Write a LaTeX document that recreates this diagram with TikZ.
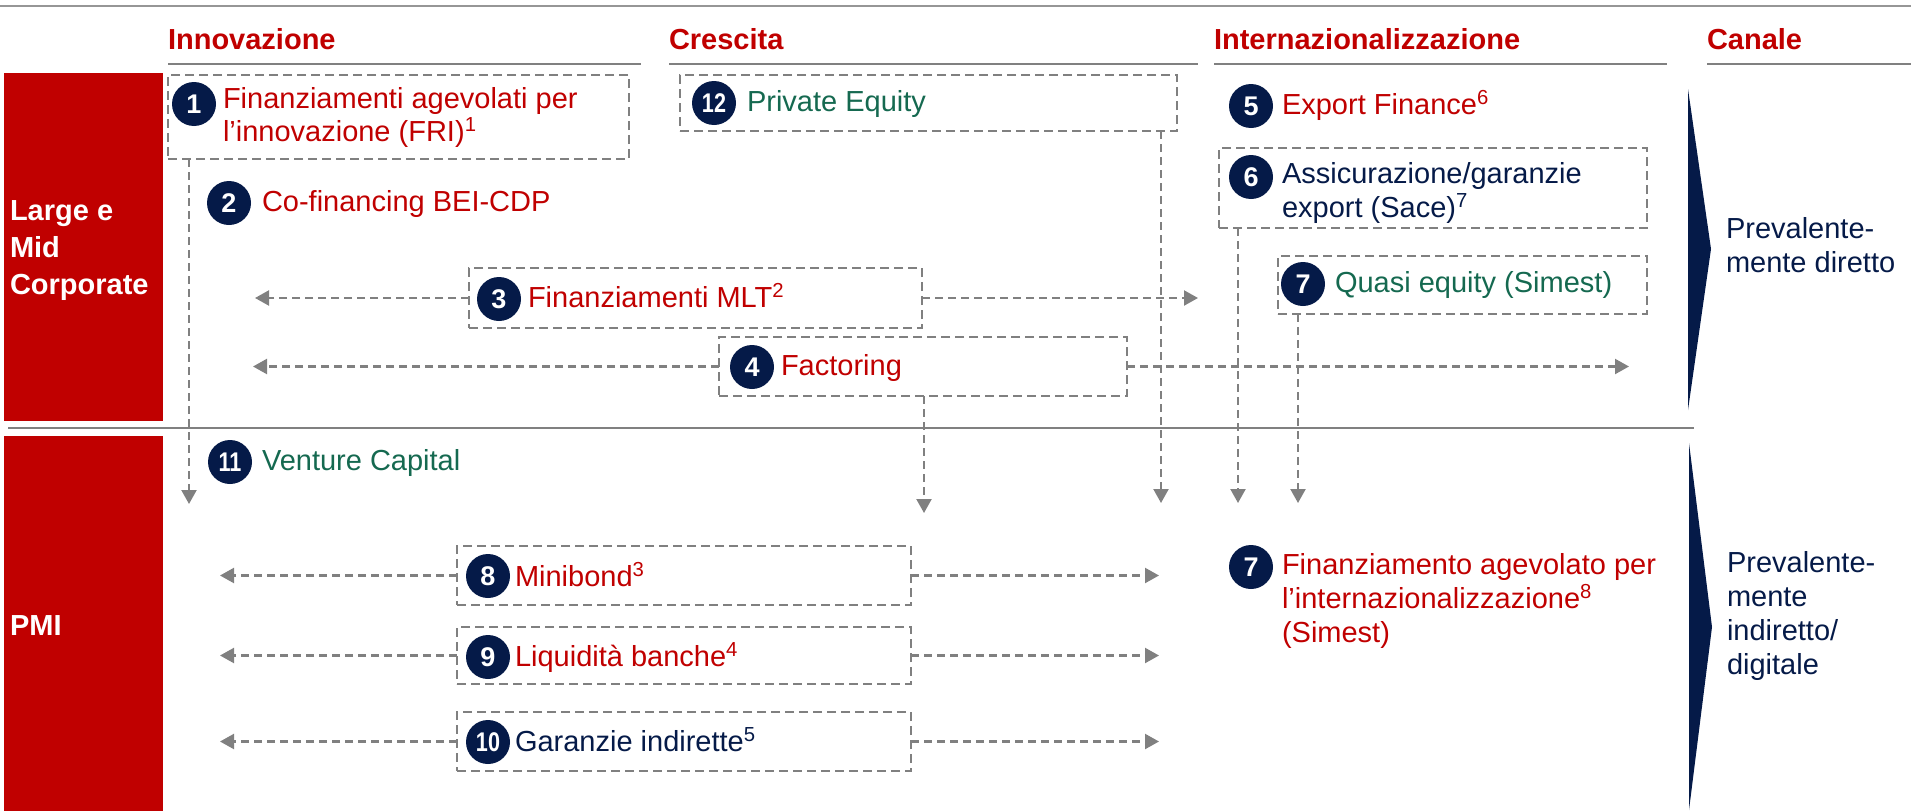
\documentclass[tikz,border=0pt]{standalone}
\usepackage{fontspec}
\usepackage{graphicx}
\setmainfont{Liberation Sans}
\usetikzlibrary{arrows.meta}
\definecolor{cred}{RGB}{192,0,0}
\definecolor{cnavy}{RGB}{5,26,72}
\definecolor{cgreen}{RGB}{21,105,80}
\definecolor{dgray}{RGB}{128,128,128}
\definecolor{lgray}{RGB}{150,150,150}
\begin{document}
\begin{tikzpicture}[x=1pt,y=-1pt,
  every node/.style={inner sep=0pt, outer sep=0pt},
  hdr/.style={anchor=base west, text=cred, font=\fontsize{29}{34}\selectfont\bfseries},
  hline/.style={draw=dgray, line width=2pt},
  dbox/.style={draw=dgray, line width=2.2pt, dash pattern=on 9pt off 5pt, anchor=north west},
  num/.style={circle, fill=cnavy, text=white, minimum size=44pt, font=\fontsize{27}{27}\selectfont\bfseries},
  itm/.style={anchor=base west, align=left, font=\fontsize{29}{34}\selectfont},
  side/.style={anchor=base west, align=left, text=cnavy, font=\fontsize{29}{34}\selectfont},
  bar/.style={fill=cred},
  bartxt/.style={anchor=base west, align=left, text=white, font=\fontsize{29}{37}\selectfont\bfseries},
  conn/.style={draw=dgray, line width=2.2pt, dash pattern=on 8pt off 5pt, -{Triangle[length=14pt,width=15pt]}}
]
\useasboundingbox (0,0) rectangle (1911,811);

% top line and separator
\draw[draw=lgray, line width=2pt] (0,6) -- (1911,6);
\draw[hline, line width=2.5pt] (8,428) -- (1694,428);

% headers
\node[hdr] (hInn) at (168,49) {Innovazione};
\node[hdr] (hCre) at (669,49) {Crescita};
\node[hdr] (hInt) at (1214,49) {Internazionalizzazione};
\node[hdr] (hCan) at (1707,49) {Canale};
\draw[hline] (168,64) -- (641,64);
\draw[hline] (669,64) -- (1198,64);
\draw[hline] (1214,64) -- (1667,64);
\draw[hline] (1707,64) -- (1911,64);

% left bars (multi-line nodes are placed by the baseline of their last line)
\fill[bar] (4,73) rectangle (163,421);
\fill[bar] (4,436) rectangle (163,811);
\node[bartxt] (lmc) at (10,294) {Large e\\Mid\\Corporate};
\node[bartxt] (pmi) at (10,635) {PMI};

% chevrons
\fill[cnavy] (1688,89) -- (1711,249) -- (1688,410) -- cycle;
\fill[cnavy] (1689,443) -- (1712,627) -- (1689,810) -- cycle;
\node[side] (ch1) at (1726,272) {Prevalente-\\mente diretto};
\node[side] (ch2) at (1727,674) {Prevalente-\\mente\\indiretto/\\digitale};

% boxes
\node[dbox, minimum width=461pt, minimum height=84pt] (b1) at (168,75) {};
\node[dbox, minimum width=497pt, minimum height=56pt] (b12) at (680,75) {};
\node[dbox, minimum width=453pt, minimum height=60pt] (b3) at (469,268) {};
\node[dbox, minimum width=408pt, minimum height=59pt] (b4) at (719,337) {};
\node[dbox, minimum width=428pt, minimum height=80pt] (b6) at (1219,148) {};
\node[dbox, minimum width=369pt, minimum height=58pt] (b7) at (1278,256) {};
\node[dbox, minimum width=454pt, minimum height=59pt] (b8) at (457,546) {};
\node[dbox, minimum width=454pt, minimum height=57pt] (b9) at (457,627) {};
\node[dbox, minimum width=454pt, minimum height=59pt] (b10) at (457,712) {};

% items
\node[num] (n1) at (194,104) {1};
\node[itm, text=cred, font=\fontsize{29}{33}\selectfont] (t1) at (223,141) {Finanziamenti agevolati per\\l’innovazione (FRI)\textsuperscript{1}};
\node[num] (n12) at (714,103) {\scalebox{0.8}[1]{12}};
\node[itm, text=cgreen] (t12) at (747,111) {Private Equity};
\node[num] (n2) at (229,203) {2};
\node[itm, text=cred] (t2) at (262,211) {Co-financing BEI-CDP};
\node[num] (n3) at (499,299) {3};
\node[itm, text=cred] (t3) at (528,307) {Finanziamenti MLT\textsuperscript{2}};
\node[num] (n4) at (752,367) {4};
\node[itm, text=cred] (t4) at (781,375) {Factoring};
\node[num] (n5) at (1251,106) {5};
\node[itm, text=cred] (t5) at (1282,114) {Export Finance\textsuperscript{6}};
\node[num] (n6) at (1251,177) {6};
\node[itm, text=cnavy] (t6) at (1282,217) {Assicurazione/garanzie\\export (Sace)\textsuperscript{7}};
\node[num] (n7a) at (1303,284) {7};
\node[itm, text=cgreen] (t7a) at (1335,292) {Quasi equity (Simest)};
\node[num] (n11) at (230,462) {\scalebox{0.8}[1]{11}};
\node[itm, text=cgreen] (t11) at (262,470) {Venture Capital};
\node[num] (n8) at (488,576) {8};
\node[itm, text=cred] (t8) at (515,586) {Minibond\textsuperscript{3}};
\node[num] (n9) at (488,657) {9};
\node[itm, text=cred] (t9) at (515,666) {Liquidità banche\textsuperscript{4}};
\node[num] (n10) at (488,742) {\scalebox{0.8}[1]{10}};
\node[itm, text=cnavy] (t10) at (515,751) {Garanzie indirette\textsuperscript{5}};
\node[num] (n7b) at (1251,567) {7};
\node[itm, text=cred] (t7b) at (1282,642) {Finanziamento agevolato per\\l’internazionalizzazione\textsuperscript{8}\\(Simest)};

% arrow end points
\coordinate (v1) at (189,504);
\coordinate (v12) at (1161,503);
\coordinate (v4) at (924,513);
\coordinate (v6) at (1238,503);
\coordinate (v7) at (1298,503);
\coordinate (l3) at (255,298);
\coordinate (r3) at (1198,298);
\coordinate (l4) at (253,367);
\coordinate (r4) at (1629,367);
\coordinate (l8) at (220,576);
\coordinate (r8) at (1159,576);
\coordinate (l9) at (220,656);
\coordinate (r9) at (1159,656);
\coordinate (l10) at (220,742);
\coordinate (r10) at (1159,742);

% connectors
\draw[conn] (b1.south -| v1) -- (v1);
\draw[conn] (b12.south -| v12) -- (v12);
\draw[conn] (b4.south -| v4) -- (v4);
\draw[conn] (b6.south -| v6) -- (v6);
\draw[conn] (b7.south -| v7) -- (v7);
\draw[conn] (b3.west) -- (b3.west -| l3);
\draw[conn] (b3.east) -- (b3.east -| r3);
\draw[conn] (b4.west) -- (b4.west -| l4);
\draw[conn] (b4.east) -- (b4.east -| r4);
\draw[conn] (b8.west) -- (b8.west -| l8);
\draw[conn] (b8.east) -- (b8.east -| r8);
\draw[conn] (b9.west) -- (b9.west -| l9);
\draw[conn] (b9.east) -- (b9.east -| r9);
\draw[conn] (b10.west) -- (b10.west -| l10);
\draw[conn] (b10.east) -- (b10.east -| r10);
\end{tikzpicture}
\end{document}
